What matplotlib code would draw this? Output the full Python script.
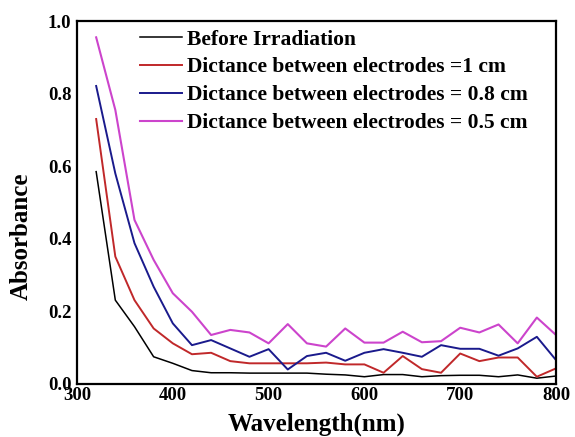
import matplotlib
matplotlib.use("Agg")
import matplotlib.pyplot as plt

wavelength = [320, 340, 360, 380, 400, 420, 440, 460, 480, 500, 520, 540, 560,
              580, 600, 620, 640, 660, 680, 700, 720, 740, 760, 780, 800]

before = [0.585, 0.231, 0.158, 0.075, 0.057, 0.037, 0.031, 0.031, 0.030, 0.030,
          0.030, 0.030, 0.027, 0.025, 0.020, 0.026, 0.026, 0.020, 0.023, 0.024,
          0.024, 0.020, 0.025, 0.016, 0.022]
d1cm = [0.730, 0.351, 0.231, 0.153, 0.112, 0.082, 0.086, 0.063, 0.057, 0.057,
        0.057, 0.057, 0.059, 0.054, 0.054, 0.031, 0.077, 0.041, 0.031, 0.084,
        0.063, 0.073, 0.073, 0.020, 0.043]
d08cm = [0.821, 0.580, 0.388, 0.268, 0.167, 0.107, 0.121, 0.098, 0.075, 0.096,
         0.040, 0.077, 0.086, 0.064, 0.086, 0.096, 0.086, 0.075, 0.107, 0.097,
         0.097, 0.078, 0.098, 0.130, 0.066]
d05cm = [0.955, 0.755, 0.452, 0.342, 0.250, 0.199, 0.135, 0.149, 0.142, 0.112,
         0.165, 0.112, 0.103, 0.153, 0.114, 0.114, 0.144, 0.115, 0.118, 0.155,
         0.142, 0.164, 0.112, 0.183, 0.135]

labels = ["Before Irradiation",
          "Dictance between electrodes =1 cm",
          "Dictance between electrodes = 0.8 cm",
          "Dictance between electrodes = 0.5 cm"]
colors = ["#000000", "#c0282a", "#1a1a8c", "#cc44cc"]
xticks = [300, 400, 500, 600, 700, 800]
yticks = [0.0, 0.2, 0.4, 0.6, 0.8, 1.0]

plt.rcParams['font.family'] = ['Liberation Serif', 'DejaVu Serif']
plt.rcParams['font.weight'] = 'bold'

fig = plt.figure(figsize=(5.75, 4.37), dpi=100)
ax = fig.add_axes([77/575, 1 - 384/437, (556-77)/575, (384-21)/437])

series = [before, d1cm, d08cm, d05cm]
widths = [1.1, 1.4, 1.4, 1.5]
for s, c, lab, lw in zip(series, colors, labels, widths):
    ax.plot(wavelength, s, color=c, lw=lw, label=lab)

ax.set_xlim(300, 800)
ax.set_ylim(0, 1.0)
ax.set_xticks(xticks)
ax.set_yticks(yticks)
ax.set_yticklabels([f"{v:.1f}" for v in yticks])
ax.tick_params(length=0, labelsize=13.5)
ax.tick_params(axis='x', pad=2)
ax.tick_params(axis='y', pad=4)
for lbl in ax.get_xticklabels() + ax.get_yticklabels():
    lbl.set_fontweight('bold')
for sp in ax.spines.values():
    sp.set_linewidth(1.6)

ax.set_xlabel("Wavelength(nm)", fontsize=18, fontweight='bold')
ax.xaxis.set_label_coords(0.5, -0.08)
ax.set_ylabel("Absorbance", fontsize=18, fontweight='bold')
ax.yaxis.set_label_coords(-0.092, 0.408)

leg = ax.legend(loc='upper left', bbox_to_anchor=(0.1, 1.018), frameon=False,
                fontsize=15.5, handlelength=1.95, handletextpad=0.25,
                labelspacing=0.36, borderaxespad=0.3)
for t in leg.get_texts():
    t.set_fontweight('bold')

fig.savefig("out.png", dpi=100)
